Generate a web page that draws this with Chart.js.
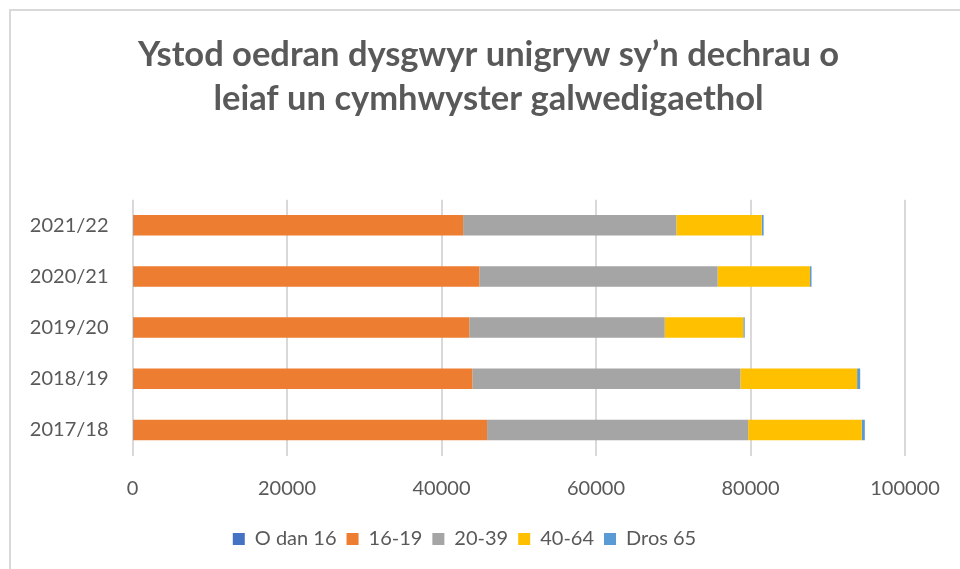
<!DOCTYPE html>
<html>
<head>
<meta charset="utf-8">
<script src="https://cdn.jsdelivr.net/npm/chart.js@4.4.1/dist/chart.umd.min.js"></script>
<style>
    html, body { margin: 0; padding: 0; background: #fff; }
    #wrap { position: relative; width: 960px; height: 569px; overflow: hidden; }
    #frame {
        position: absolute; left: 9px; top: 9px; width: 1000px; height: 600px;
        border-left: 2px solid #d9d9d9; border-top: 2px solid #d9d9d9;
    }
    canvas { position: absolute; left: 0; top: 0; }
</style>
</head>
<body>
<div id="wrap">
    <div id="frame"></div>
    <canvas id="ageChart" width="960" height="569"></canvas>
</div>
<script>
// ---------------------------------------------------------
// DATA
// ---------------------------------------------------------
const years = ['2021/22', '2020/21', '2019/20', '2018/19', '2017/18'];
const under16 = [100, 100, 100, 100, 100];
const age16to19 = [42700, 44800, 43500, 43900, 45800];
const age20to39 = [27600, 30850, 25300, 34700, 33800];
const age40to64 = [11050, 11950, 10170, 15100, 14700];
const over65 = [250, 200, 180, 400, 400];
const xTicks = [0, 20000, 40000, 60000, 80000, 100000];

const textColor = '#595959';
const fontFamily = 'Lato, "Open Sans", sans-serif';

// title is centred a bit right of the legend in the original
const titleShift = {
    id: 'titleShift',
    afterLayout(chart) {
        if (chart.titleBlock) {
            chart.titleBlock.left += 24;
            chart.titleBlock.right += 24;
        }
    }
};

// ---------------------------------------------------------
// RENDER CHART
// ---------------------------------------------------------
const canvas = document.getElementById('ageChart');

const chart = new Chart(canvas, {
    type: 'bar',
    data: {
        labels: years,
        datasets: [
            { label: 'O dan 16', data: under16, backgroundColor: '#4472C4' },
            { label: '16-19', data: age16to19, backgroundColor: '#ED7D31' },
            { label: '20-39', data: age20to39, backgroundColor: '#A5A5A5' },
            { label: '40-64', data: age40to64, backgroundColor: '#FFC000' },
            { label: 'Dros 65', data: over65, backgroundColor: '#5B9BD5' }
        ]
    },
    plugins: [titleShift],
    options: {
        indexAxis: 'y',
        responsive: false,
        animation: false,
        datasets: {
            bar: { categoryPercentage: 1, barPercentage: 0.4, borderWidth: 0 }
        },
        layout: { padding: { left: 24, right: 55, top: 0, bottom: 10 } },
        plugins: {
            title: {
                display: true,
                text: ['Ystod oedran dysgwyr unigryw sy\u2019n dechrau o', 'leiaf un cymhwyster galwedigaethol'],
                color: textColor,
                font: { family: fontFamily, size: 34.5, weight: 'bold', lineHeight: 1.3 },
                padding: { top: 32, bottom: 78 }
            },
            legend: {
                position: 'bottom',
                labels: {
                    color: textColor,
                    font: { family: fontFamily, size: 20 },
                    boxWidth: 12,
                    boxHeight: 12,
                    padding: 10
                }
            },
            tooltip: { enabled: false }
        },
        scales: {
            x: {
                stacked: true,
                min: 0,
                max: 100000,
                afterBuildTicks: scale => {
                    scale.ticks = xTicks.map(v => ({ value: v }));
                },
                afterFit: scale => {
                    scale.height = 63.5;
                    scale.paddingRight = 20;
                },
                grid: { color: '#d9d9d9', lineWidth: 2, drawTicks: false },
                border: { display: false },
                ticks: {
                    color: textColor,
                    font: { family: fontFamily, size: 20 },
                    padding: 21,
                    callback: v => String(v)
                }
            },
            y: {
                stacked: true,
                grid: { display: false },
                border: { display: false },
                afterFit: scale => { scale.width = 108.5; },
                ticks: {
                    color: textColor,
                    font: { family: fontFamily, size: 20 },
                    padding: 16
                }
            }
        }
    }
});
</script>
</body>
</html>
